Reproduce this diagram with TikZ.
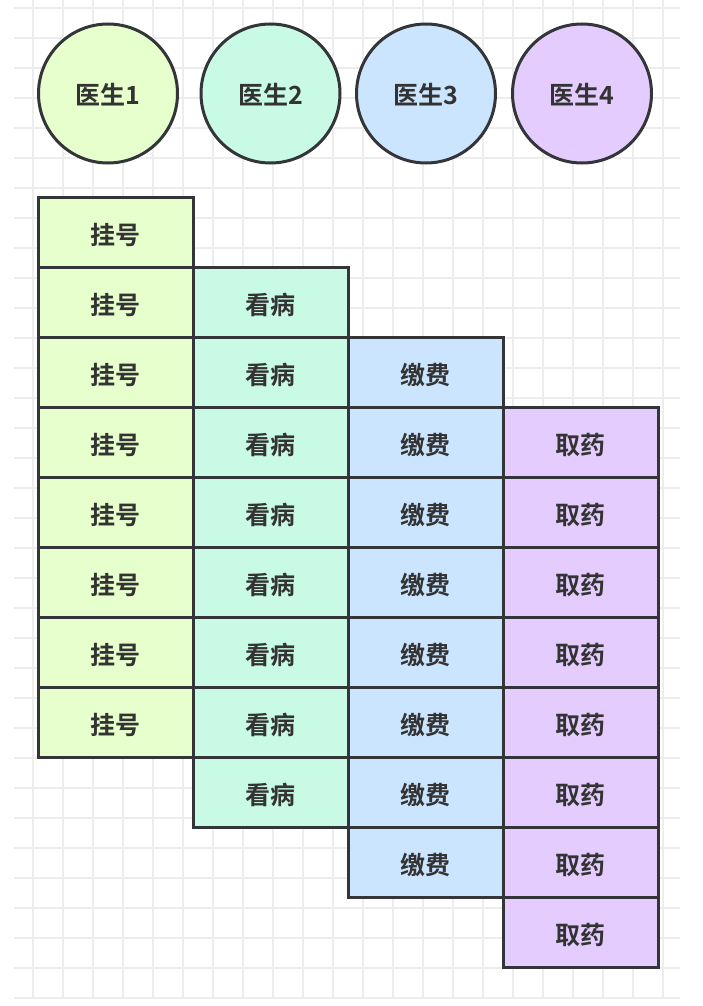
\documentclass[tikz,border=0pt]{standalone}
\usepackage{fontspec}
\newfontfamily\cjk{Noto Sans CJK SC}[BoldFont={Noto Sans CJK SC Bold}]
\definecolor{cgreen}{HTML}{E6FFCC}
\definecolor{cmint}{HTML}{C9FAE6}
\definecolor{cblue}{HTML}{CCE5FF}
\definecolor{cpurple}{HTML}{E5CCFF}
\definecolor{cline}{HTML}{333538}
\definecolor{ctext}{HTML}{333333}
\definecolor{cgrid}{HTML}{EDEDED}
\tikzset{
  gridline/.style={draw=cgrid, line width=1.4pt},
  doctor/.style={circle, draw=cline, line width=3pt, minimum size=139pt, inner sep=0pt},
  cell/.style={rectangle, draw=cline, line width=3pt, minimum width=155pt, minimum height=70pt,
    inner sep=0pt},
  celltext/.style={font=\cjk\bfseries\fontsize{25}{30}\selectfont, text=ctext, inner sep=0pt},
}
\begin{document}
\begin{tikzpicture}[x=1pt,y=-1pt]
\useasboundingbox (0,0) rectangle (702,1006);
\fill[white] (0,0) rectangle (702,1006);
% grid
\foreach \k in {0,...,33} {\draw[gridline] (14,8+30*\k) -- (680,8+30*\k);}
\foreach \k in {0,...,21} {\draw[gridline] (33+30*\k,0) -- (33+30*\k,998);}
% doctors
\node[doctor, fill=cgreen]  (d1) at (108,93.5) {};
\node[doctor, fill=cmint]   (d2) at (270.5,93.5) {};
\node[doctor, fill=cblue]   (d3) at (426,93.5) {};
\node[doctor, fill=cpurple] (d4) at (582,93.5) {};
\node[celltext] (t1) at ([yshift=-1.5pt]d1.center) {医生1};
\node[celltext] (t2) at ([yshift=-1.5pt]d2.center) {医生2};
\node[celltext] (t3) at ([yshift=-1.5pt]d3.center) {医生3};
\node[celltext] (t4) at ([yshift=-1.5pt]d4.center) {医生4};
% cells
\foreach \r in {0,...,7} {\node[cell, fill=cgreen] (a\r) at (115.5,232+70*\r) {};
  \node[celltext] (ta\r) at ([yshift=-3pt]a\r.center) {挂号};}
\foreach \r in {1,...,8} {\node[cell, fill=cmint] (b\r) at (270.5,232+70*\r) {};
  \node[celltext] (tb\r) at ([yshift=-3pt]b\r.center) {看病};}
\foreach \r in {2,...,9} {\node[cell, fill=cblue] (c\r) at (425.5,232+70*\r) {};
  \node[celltext] (tc\r) at ([yshift=-3pt]c\r.center) {缴费};}
\foreach \r in {3,...,10} {\node[cell, fill=cpurple] (e\r) at (580.5,232+70*\r) {};
  \node[celltext] (te\r) at ([yshift=-3pt]e\r.center) {取药};}
\end{tikzpicture}
\end{document}
